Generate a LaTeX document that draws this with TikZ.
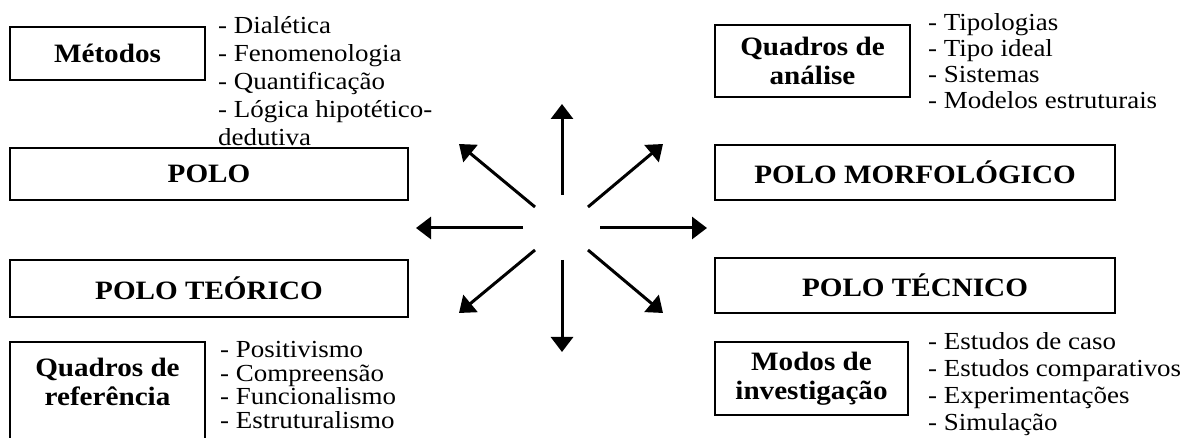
\documentclass[tikz,border=0pt]{standalone}
\usepackage{fontspec}
\setmainfont{Liberation Serif}[FakeStretch=1.1]
\usetikzlibrary{arrows.meta}
\begin{document}
\begin{tikzpicture}[x=1pt,y=-1pt,
  boxt/.style={draw, line width=1.3pt, inner sep=0pt, align=center,
    font=\fontsize{26.5}{30}\selectfont\bfseries},
  listt/.style={anchor=west, inner sep=0pt, align=left},
  arr/.style={line width=3pt, -{Triangle[length=15pt,width=22pt]}}]
\useasboundingbox (0,0) rectangle (1195,438);
% boxes
\node[boxt, minimum width=195, minimum height=53] (met) at (107.5,53.5) {Métodos};
\node[boxt, minimum width=398, minimum height=52] (polo) at (209,174) {POLO};
\node[boxt, minimum width=398, minimum height=57] (teo) at (209,288.5) {POLO TEÓRICO};
\node[boxt, draw=none, minimum width=195] (qref) at (107.5,382) {Quadros de\\[-1pt]referência};
\draw[line width=1.3pt] (10,445) |- (205,342) -- (205,445);
\node[boxt, minimum width=195, minimum height=72] (qan) at (812.5,61) {Quadros de\\[-1pt]análise};
\node[boxt, minimum width=400, minimum height=55] (morf) at (915,172.5) {POLO MORFOLÓGICO};
\node[boxt, minimum width=400, minimum height=55] (tec) at (915,285.5) {POLO TÉCNICO};
\node[boxt, minimum width=193, minimum height=73] (mod) at (811.5,378.5) {Modos de\\[-1pt]investigação};
% lists
\node[listt, font=\fontsize{24.5}{28}\selectfont] (lmet) at (218,81)
  {- Dialética\\- Fenomenologia\\- Quantificação\\- Lógica hipotético-\\dedutiva};
\node[listt, font=\fontsize{24.5}{26}\selectfont] (lqan) at (928,61)
  {- Tipologias\\- Tipo ideal\\- Sistemas\\- Modelos estruturais};
\node[listt, font=\fontsize{24.5}{23.5}\selectfont] (lref) at (220,385)
  {- Positivismo\\- Compreensão\\- Funcionalismo\\- Estruturalismo};
\node[listt, font=\fontsize{24.5}{27}\selectfont] (lmod) at (928,384)
  {- Estudos de caso\\- Estudos comparativos\\- Experimentações\\- Simulação};
% arrows
\coordinate (us) at (562,195); \coordinate (ut) at (562,104);
\coordinate (ds) at (562,260); \coordinate (dt) at (562,352);
\coordinate (ls) at (523,228); \coordinate (lt) at (416,228);
\coordinate (rs) at (600,228); \coordinate (rt) at (707,228);
\coordinate (uls) at (535,207); \coordinate (ult) at (459,144);
\coordinate (urs) at (588,207); \coordinate (urt) at (663,144);
\coordinate (dls) at (535,250); \coordinate (dlt) at (459,313);
\coordinate (drs) at (588,250); \coordinate (drt) at (663,313);
\draw[arr] (us) -- (ut);
\draw[arr] (ds) -- (dt);
\draw[arr] (ls) -- (lt);
\draw[arr] (rs) -- (rt);
\draw[arr] (uls) -- (ult);
\draw[arr] (urs) -- (urt);
\draw[arr] (dls) -- (dlt);
\draw[arr] (drs) -- (drt);
\end{tikzpicture}
\end{document}
